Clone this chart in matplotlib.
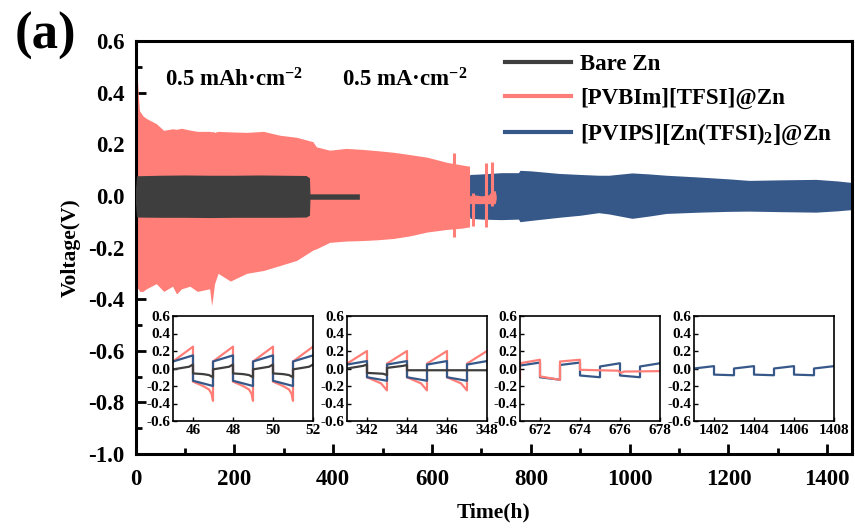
import matplotlib
matplotlib.use("Agg")
import matplotlib.pyplot as plt
from matplotlib.ticker import MultipleLocator, FormatStrFormatter

plt.rcParams['font.family'] = ['Liberation Serif', 'DejaVu Serif']
plt.rcParams['font.weight'] = 'bold'
plt.rcParams['axes.labelweight'] = 'bold'
plt.rcParams['axes.unicode_minus'] = False
plt.rcParams['mathtext.fontset'] = 'custom'
plt.rcParams['mathtext.rm'] = 'Liberation Serif:bold'
plt.rcParams['mathtext.bf'] = 'Liberation Serif:bold'
plt.rcParams['mathtext.it'] = 'Liberation Serif:bold:italic'

RED = '#FF7F78'
BLUE = '#365889'
BLACK = '#3E3E3E'

labels = ['Bare Zn', '[PVBIm][TFSI]@Zn',
          r'[PVIPS]$\left[\mathbf{Zn(TFSI)}_{\mathbf{2}}\right]$@Zn']

# ---- main panel: voltage envelopes (time in h, voltage in V)
bare_t = [0, 2, 50, 100, 150, 200, 250, 300, 345, 352, 353, 400, 453]
bare_hi = [0.03, 0.078, 0.08, 0.081, 0.08, 0.08, 0.081, 0.08, 0.079, 0.07, 0.008, 0.008, 0.008]
bare_lo = [-0.03, -0.082, -0.083, -0.083, -0.084, -0.083, -0.083, -0.083, -0.082, -0.075, -0.013, -0.013, -0.013]

red_t = [0, 2, 4, 6, 8, 15, 22, 42, 57, 75, 83, 93, 110, 125, 150, 154, 156, 160,
         167, 192, 225, 259, 292, 326, 359, 366, 393, 426, 460, 490, 522, 555, 590,
         630, 660, 676]
red_hi = [0.30, 0.40, 0.45, 0.38, 0.33, 0.31, 0.30, 0.28, 0.254, 0.26, 0.258, 0.262,
          0.255, 0.25, 0.25, 0.248, 0.25, 0.246, 0.25, 0.248, 0.246, 0.25, 0.235,
          0.227, 0.21, 0.19, 0.177, 0.184, 0.18, 0.175, 0.169, 0.16, 0.15, 0.13,
          0.12, 0.115]
red_lo = [-0.28, -0.35, -0.36, -0.36, -0.37, -0.37, -0.36, -0.34, -0.37, -0.35, -0.38,
          -0.36, -0.35, -0.37, -0.36, -0.425, -0.40, -0.34, -0.30, -0.33, -0.30,
          -0.289, -0.27, -0.25, -0.21, -0.205, -0.18, -0.175, -0.173, -0.17, -0.165,
          -0.155, -0.14, -0.13, -0.125, -0.12]

red_spike_t = [645, 683, 710, 721]
red_spike_hi = [0.165, 0.01, 0.126, 0.13]
red_spike_lo = [-0.16, -0.115, -0.12, -0.04]
red_blob_t = [676, 683, 700, 715, 721, 728, 730]
red_blob_hi = [0.0, 0.005, 0.0, 0.005, 0.02, 0.02, 0.0]
red_blob_lo = [-0.03, -0.03, -0.03, -0.03, -0.03, -0.03, -0.01]

blue_t = [0, 676, 677, 700, 740, 775, 778, 800, 857, 900, 937, 958, 1005, 1040,
          1074, 1141, 1200, 1242, 1300, 1377, 1420, 1450]
blue_hi = [0.08, 0.08, 0.083, 0.085, 0.09, 0.09, 0.099, 0.097, 0.087, 0.083, 0.08,
           0.08, 0.089, 0.085, 0.08, 0.073, 0.066, 0.06, 0.062, 0.064, 0.058, 0.052]
blue_lo = [-0.08, -0.08, -0.087, -0.09, -0.092, -0.09, -0.10, -0.095, -0.083, -0.075,
           -0.065, -0.07, -0.087, -0.078, -0.068, -0.063, -0.06, -0.059, -0.061,
           -0.063, -0.058, -0.053]

# ---- zoomed insets
i1_red_t = [45, 46, 46, 46.5, 46.8, 46.93, 47, 47, 48, 48, 48.5, 48.8, 48.93, 49, 49,
            50, 50, 50.5, 50.8, 50.93, 51, 51, 52]
i1_red_v = [0.08, 0.25, -0.15, -0.2, -0.24, -0.29, -0.37, 0.08, 0.25, -0.15, -0.2,
            -0.24, -0.29, -0.37, 0.08, 0.25, -0.15, -0.2, -0.24, -0.29, -0.37, 0.08, 0.25]
i1_blue_t = [45, 46, 46, 47, 47, 48, 48, 49, 49, 50, 50, 51, 51, 52]
i1_blue_v = [0.08, 0.15, -0.14, -0.2, 0.08, 0.15, -0.14, -0.2, 0.08, 0.15, -0.14, -0.2,
             0.08, 0.15]
i1_bare_t = [45, 45.8, 46, 46, 46.5, 46.8, 47, 47, 47.8, 48, 48, 48.5, 48.8, 49, 49,
             49.8, 50, 50, 50.5, 50.8, 51, 51, 51.8, 52]
i1_bare_v = [-0.01, 0.02, 0.045, -0.056, -0.064, -0.075, -0.1, -0.01, 0.02, 0.045,
             -0.056, -0.064, -0.075, -0.1, -0.01, 0.02, 0.045, -0.056, -0.064, -0.075,
             -0.1, -0.01, 0.02, 0.045]

i2_red_t = [341, 342, 342, 342.7, 343, 343, 344, 344, 344.7, 345, 345, 346, 346, 346.7,
            347, 347, 348]
i2_red_v = [0.056, 0.2, -0.1, -0.17, -0.25, 0.056, 0.2, -0.1, -0.17, -0.25, 0.056, 0.2,
            -0.1, -0.17, -0.25, 0.056, 0.2]
i2_blue_t = [341, 342, 342, 343, 343, 344, 344, 345, 345, 346, 346, 347, 347, 348]
i2_blue_v = [0.045, 0.085, -0.1, -0.14, 0.045, 0.085, -0.1, -0.14, 0.045, 0.085, -0.1,
             -0.14, 0.045, 0.085]
i2_bare_t = [341, 341.8, 342, 342, 342.8, 343, 343, 343.8, 344, 344, 348]
i2_bare_v = [0.0, 0.03, 0.045, -0.05, -0.06, -0.075, 0.007, 0.03, 0.04, -0.02, -0.02]

i3_red_t = [671, 671, 672, 672, 673, 673, 674, 674, 675.9, 676.05, 676.2, 678]
i3_red_v = [-0.12, 0.06, 0.1, -0.09, -0.13, 0.08, 0.1, -0.015, -0.025, -0.05, -0.035,
            -0.03]
i3_blue_t = [671, 672, 672, 673, 673, 674, 674, 675, 675, 676, 676, 677, 677, 678]
i3_blue_v = [0.034, 0.068, -0.1, -0.128, 0.04, 0.068, -0.08, -0.1, 0.023, 0.06, -0.08,
             -0.1, 0.023, 0.06]

i4_blue_t = [1401, 1402, 1402, 1403, 1403, 1404, 1404, 1405, 1405, 1406, 1406, 1407,
             1407, 1408]
i4_blue_v = [0.0, 0.027, -0.07, -0.077, 0.0, 0.027, -0.07, -0.077, 0.0, 0.027, -0.07,
             -0.077, 0.0, 0.027]

inset_xlim = [(45, 52), (341, 348), (671, 678), (1401, 1408)]
inset_ticks = [[46, 48, 50, 52], [342, 344, 346, 348], [672, 674, 676, 678],
               [1402, 1404, 1406, 1408]]
inset_left = [173, 347, 520, 694]

fig = plt.figure(figsize=(8.55, 5.32), dpi=100)
ax = fig.add_axes([0.1585, 0.1466, 0.838, 0.7763])

ax.fill_between(blue_t, blue_lo, blue_hi, color=BLUE, lw=0, zorder=1)
ax.fill_between(red_t, red_lo, red_hi, color=RED, lw=0, zorder=2)
ax.fill_between(red_blob_t, red_blob_lo, red_blob_hi, color=RED, lw=0, zorder=2)
ax.vlines(red_spike_t, red_spike_lo, red_spike_hi, color=RED, lw=2.2, zorder=2)
ax.fill_between(bare_t, bare_lo, bare_hi, color=BLACK, lw=0, zorder=3)

# legend proxies
for c, lab in zip([BLACK, RED, BLUE], labels):
    ax.plot([], [], color=c, lw=3, label=lab)
ax.legend(loc='upper left', bbox_to_anchor=(0.515, 0.968), frameon=False,
          fontsize=16.5, handlelength=2.9, handletextpad=0.4, labelspacing=0.55,
          borderpad=0, borderaxespad=0)

ax.text(60, 0.45, r'0.5 mAh·cm$^{\mathbf{-2}}$', fontsize=16.5, va='center')
ax.text(418, 0.45, r'0.5 mA·cm$^{\mathbf{-2}}$', fontsize=16.5, va='center')

ax.set_xlim(0, 1450)
ax.set_ylim(-1.0, 0.6)
ax.xaxis.set_major_locator(MultipleLocator(200))
ax.xaxis.set_minor_locator(MultipleLocator(100))
ax.yaxis.set_major_locator(MultipleLocator(0.2))
ax.yaxis.set_minor_locator(MultipleLocator(0.1))
ax.yaxis.set_major_formatter(FormatStrFormatter('%.1f'))
ax.tick_params(which='both', direction='in', width=2, labelsize=16.5)
ax.tick_params(axis='y', pad=8)
ax.tick_params(axis='x', pad=11)
ax.tick_params(which='major', length=7)
ax.tick_params(which='minor', length=4)
for s in ax.spines.values():
    s.set_linewidth(2.2)
ax.set_xlabel('Time(h)', fontsize=15.5, labelpad=9)
ax.set_ylabel('Voltage(V)', fontsize=15.5, labelpad=5)

fig.text(0.017, 0.932, '(a)', fontsize=38, va='center', ha='left')

inset_series = [
    [(i1_red_t, i1_red_v, RED), (i1_blue_t, i1_blue_v, BLUE), (i1_bare_t, i1_bare_v, BLACK)],
    [(i2_red_t, i2_red_v, RED), (i2_blue_t, i2_blue_v, BLUE), (i2_bare_t, i2_bare_v, BLACK)],
    [(i3_blue_t, i3_blue_v, BLUE), (i3_red_t, i3_red_v, RED)],
    [(i4_blue_t, i4_blue_v, BLUE)],
]

W, H = 855, 532
for k in range(4):
    iax = fig.add_axes([inset_left[k] / W, 1 - 421 / H, 140 / W, 105 / H])
    iax.set_facecolor('white')
    for t, v, c in inset_series[k]:
        iax.plot(t, v, color=c, lw=1.6)
    iax.set_xlim(*inset_xlim[k])
    iax.set_ylim(-0.6, 0.6)
    iax.set_xticks(inset_ticks[k])
    iax.xaxis.set_minor_locator(MultipleLocator(1))
    iax.yaxis.set_major_locator(MultipleLocator(0.2))
    iax.yaxis.set_major_formatter(FormatStrFormatter('%.1f'))
    iax.tick_params(which='both', direction='in', labelsize=11, pad=2, width=1)
    iax.tick_params(which='major', length=3)
    iax.tick_params(which='minor', length=0)
    for s in iax.spines.values():
        s.set_linewidth(1.2)

fig.savefig('out.png', dpi=100)
